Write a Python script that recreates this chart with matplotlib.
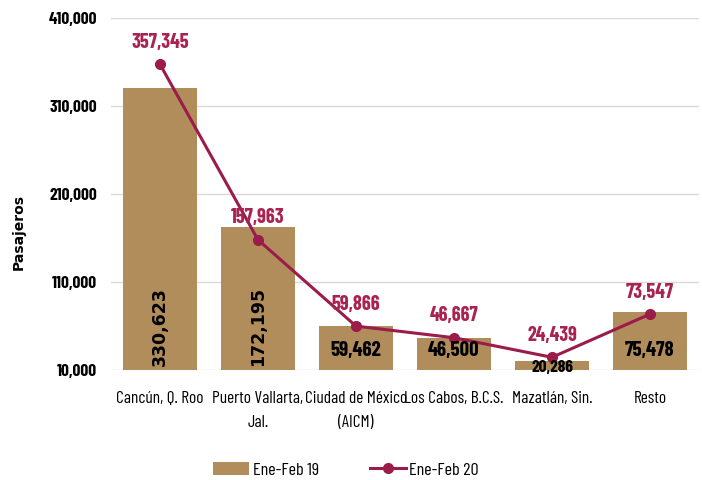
import matplotlib
matplotlib.use("Agg")
import matplotlib.pyplot as plt
from matplotlib.ticker import FuncFormatter

plt.rcParams['font.family'] = ['Barlow Condensed', 'DejaVu Sans']

# data
categorias = ['Cancún, Q. Roo', 'Puerto Vallarta,\nJal.', 'Ciudad de México\n(AICM)',
              'Los Cabos, B.C.S.', 'Mazatlán, Sin.', 'Resto']
ene_feb_19 = [330623, 172195, 59462, 46500, 20286, 75478]
ene_feb_20 = [357345, 157963, 59866, 46667, 24439, 73547]
yticks = [10000, 110000, 210000, 310000, 410000]

bar_color = '#B08D5B'
line_color = '#9B1B4A'

fig = plt.figure(figsize=(7.02, 4.80), dpi=100)
ax = fig.add_axes([111 / 702, 1 - 370 / 480, 588 / 702, 352 / 480])

x = list(range(len(categorias)))
bars = ax.bar(x, ene_feb_19, width=0.745, color=bar_color, label='Ene-Feb 19', zorder=2)
line, = ax.plot(x, ene_feb_20, color=line_color, linewidth=2.2, marker='o', markersize=7,
                label='Ene-Feb 20', zorder=3)

ax.set_ylim(10000, 410000)
ax.set_xlim(-0.5, len(categorias) - 0.5)
ax.set_yticks(yticks)
ax.yaxis.set_major_formatter(FuncFormatter(lambda v, p: f'{int(v):,}'))
ax.grid(axis='y', color='#D9D9D9', linewidth=1, zorder=0)
ax.set_axisbelow(True)
for s in ax.spines.values():
    s.set_visible(False)
ax.tick_params(axis='both', length=0)
ax.tick_params(axis='y', labelsize=12.5, pad=10)
for t in ax.get_yticklabels():
    t.set_fontweight('bold')
ax.set_xticks(x)
ax.set_xticklabels(categorias, fontsize=12.5, linespacing=1.75)
ax.tick_params(axis='x', pad=15)

fig.text(19 / 702, 1 - 232 / 480, 'Pasajeros', rotation=90, ha='center', va='center',
         fontsize=10, fontweight='bold', family=['DejaVu Sans'])

# bar labels
for i, v in enumerate(ene_feb_19):
    if i < 2:
        ax.text(i, 14000, f'{v:,}', rotation=90, ha='center', va='bottom',
                fontsize=12.5, fontweight='bold', color='black', zorder=4,
                family=['DejaVu Sans'])
    elif i == 4:
        ax.text(i, 13000, f'{v:,}', ha='center', va='center',
                fontsize=12.5, fontweight='bold', color='black', zorder=4)
    else:
        ax.text(i, 32000, f'{v:,}', ha='center', va='center',
                fontsize=15, fontweight='bold', color='black', zorder=4)

# line labels
for i, v in enumerate(ene_feb_20):
    ax.annotate(f'{v:,}', (i, v), xytext=(0, 9), textcoords='offset points',
                ha='center', va='bottom', fontsize=14.5, fontweight='bold',
                color='#A8234F', zorder=4)

ax.legend([bars, line], ['Ene-Feb 19', 'Ene-Feb 20'], loc='upper center',
          bbox_to_anchor=(0.40, -0.215), ncol=2, frameon=False,
          fontsize=13, handlelength=2.0, handletextpad=0.2, columnspacing=2.8)

fig.savefig('out.png', dpi=100)
